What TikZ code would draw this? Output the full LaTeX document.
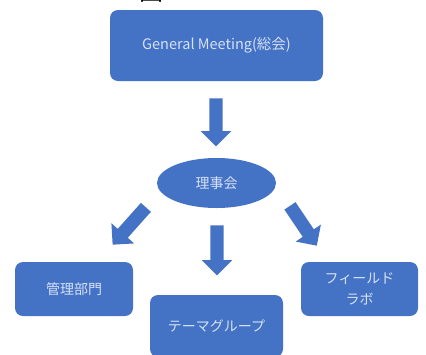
\documentclass[tikz,border=0pt]{standalone}
\usepackage{fontspec}
\newfontfamily\jp{Noto Sans CJK JP}
\usetikzlibrary{shapes.geometric,shapes.arrows}
\definecolor{boxblue}{HTML}{4472C4}
\definecolor{txtblue}{HTML}{D6E2F5}
\begin{document}
\begin{tikzpicture}[x=1pt,y=-1pt,
  box/.style={fill=boxblue, rounded corners=8pt, inner sep=0pt, text=txtblue, align=center,
    font=\jp\fontsize{14}{21}\selectfont},
  blk/.style={single arrow, fill=boxblue, inner sep=0pt, text height=13pt, text depth=0pt,
    text width=0pt, single arrow head extend=8.5pt, single arrow tip angle=90, anchor=center}
]
\useasboundingbox (0,0) rectangle (426,354);
\node[font=\jp\fontsize{24}{24}\selectfont, anchor=base, inner sep=0pt] (zu) at (151.5,0.5) {図};
\node[box, minimum width=213pt, minimum height=71pt, font=\jp\fontsize{14.5}{18}\selectfont] (gm) at (216.5,45.5) {General Meeting(総会)};
\node[ellipse, fill=boxblue, inner sep=0pt, text=txtblue, minimum width=119pt, minimum height=50pt,
  font=\jp\fontsize{14}{16}\selectfont] (rj) at (216.5,183) {理事会};
\node[box, minimum width=118pt, minimum height=54pt] (kb) at (74,289) {管理部門};
\node[box, minimum width=133pt, minimum height=62pt] (tg) at (216.5,326) {テーマグループ};
\node[box, minimum width=117pt, minimum height=54pt] (fl) at (359.5,289) {フィールド\\ラボ};
\node[blk, minimum height=48pt, rotate=-90] (a1) at (216,119) {};
\node[blk, minimum height=50pt, rotate=-90] (a2) at (217,247) {};
\node[blk, minimum height=50pt, rotate=-131.7] (a3) at (131.5,223.5) {};
\node[blk, minimum height=48pt, rotate=-56] (a4) at (301.5,223) {};
\end{tikzpicture}
\end{document}
